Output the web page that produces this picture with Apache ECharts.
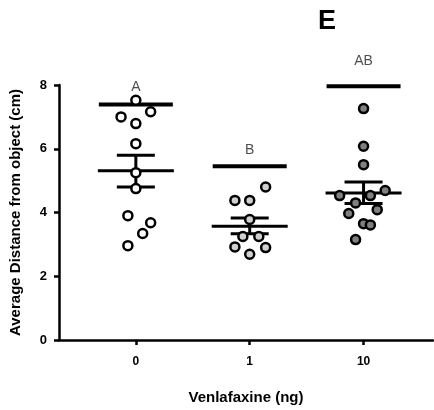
<!DOCTYPE html>
<html>
<head>
<meta charset="utf-8">
<script src="https://cdn.jsdelivr.net/npm/echarts@6/dist/echarts.min.js"></script>
<style>
  html, body { margin: 0; padding: 0; background: #fff; }
  #chart { width: 434px; height: 410px; }
</style>
</head>
<body>
<div id="chart"></div>
<script>
// dose groups (x positions 0,1,2 on the axis)
const doseLabels = ['0', '1', '10'];
const groupFill = ['#ffffff', '#d0d0d0', '#808080'];

// individual animals: x (jittered around group) and y (cm)
const ctrlX = [0, 0.13, -0.13, 0, 0, 0, 0, -0.07, 0.13, 0.06, -0.07];
const ctrlY = [7.52, 7.16, 7.0, 6.79, 6.16, 5.25, 4.75, 3.9, 3.68, 3.34, 2.96];
const lowX = [1.14, 0.87, 1.0, 1.0, 0.94, 1.08, 0.87, 1.0, 1.14];
const lowY = [4.8, 4.38, 4.38, 3.78, 3.25, 3.25, 2.92, 2.69, 2.9];
const highX = [2, 2, 2, 1.79, 2.06, 2.19, 1.93, 2.12, 1.87, 2, 2.06, 1.93];
const highY = [7.26, 6.08, 5.5, 4.53, 4.53, 4.69, 4.3, 4.09, 3.97, 3.65, 3.61, 3.15];

// mean +/- SEM and the upper bar per group
const means = [5.31, 3.57, 4.61];
const semLow = [4.8, 3.33, 4.28];
const semHigh = [5.8, 3.83, 4.96];
const topBar = [7.39, 5.45, 7.96];

// significance letters
const letters = ['A', 'B', 'AB'];
const letterY = [7.93, 5.97, 8.75];

const FONT = "'Liberation Sans', Arial, sans-serif";

const chart = echarts.init(document.getElementById('chart'));

const pts = (xs, ys) => xs.map((x, i) => [x, ys[i]]);
const pointSeries = [pts(ctrlX, ctrlY), pts(lowX, lowY), pts(highX, highY)].map((data, i) => ({
  type: 'scatter',
  data,
  symbol: 'circle',
  symbolSize: 9,
  z: 5,
  itemStyle: { color: groupFill[i], borderColor: '#000', borderWidth: 2.5, opacity: 1 },
  emphasis: { disabled: true },
}));

chart.setOption({
  animation: false,
  textStyle: { fontFamily: FONT },
  title: {
    text: 'E',
    left: 318,
    top: 8,
    padding: 0,
    textStyle: { fontSize: 27, fontWeight: 'bold', color: '#000', fontFamily: FONT },
  },
  grid: { left: 58, right: 1, top: 85, bottom: 69.5 },
  xAxis: {
    type: 'value',
    min: -0.675,
    max: 2.61,
    name: 'Venlafaxine (ng)',
    nameLocation: 'middle',
    nameGap: 50,
    nameTextStyle: { fontSize: 15, fontWeight: 'bold', color: '#000', fontFamily: FONT },
    splitLine: { show: false },
    axisLine: { lineStyle: { color: '#000', width: 2.5 } },
    axisTick: { customValues: [0, 1, 2], length: 5, lineStyle: { color: '#000', width: 2.5 } },
    axisLabel: {
      customValues: [0, 1, 2],
      formatter: v => doseLabels[Math.round(v)],
      margin: 16,
      fontSize: 12,
      fontWeight: 'bold',
      color: '#000',
      fontFamily: FONT,
    },
  },
  yAxis: {
    type: 'value',
    min: 0,
    max: 8,
    interval: 2,
    name: 'Average Distance from object (cm)',
    nameLocation: 'middle',
    nameGap: 36,
    nameTextStyle: { fontSize: 15, fontWeight: 'bold', color: '#000', fontFamily: FONT },
    splitLine: { show: false },
    axisLine: { show: true, onZero: false, lineStyle: { color: '#000', width: 2.5 } },
    axisTick: { show: true, length: 5, lineStyle: { color: '#000', width: 2.5 } },
    axisLabel: { margin: 12, fontSize: 13, fontWeight: 'bold', color: '#000', fontFamily: FONT },
  },
  series: [
    {
      type: 'custom',
      z: 2,
      clip: false,
      data: means.map((m, i) => [i, m, semLow[i], semHigh[i], topBar[i]]),
      renderItem: (params, api) => {
        const x = api.value(0);
        const mean = api.coord([x, api.value(1)]);
        const lo = api.coord([x, api.value(2)]);
        const hi = api.coord([x, api.value(3)]);
        const top = api.coord([x, api.value(4)]);
        const line = (x1, y1, x2, y2, w) => ({
          type: 'line',
          shape: { x1, y1, x2, y2 },
          style: { stroke: '#000', lineWidth: w },
        });
        return {
          type: 'group',
          children: [
            line(top[0] - 37, top[1], top[0] + 37, top[1], 4),
            line(mean[0] - 38, mean[1], mean[0] + 38, mean[1], 3),
            line(hi[0], hi[1], lo[0], lo[1], 3),
            line(hi[0] - 19, hi[1], hi[0] + 19, hi[1], 3),
            line(lo[0] - 19, lo[1], lo[0] + 19, lo[1], 3),
          ],
        };
      },
    },
    ...pointSeries,
    {
      type: 'scatter',
      clip: false,
      symbolSize: 0,
      silent: true,
      z: 6,
      data: letters.map((t, i) => ({ value: [i, letterY[i]], name: t })),
      label: {
        show: true,
        position: 'inside',
        formatter: p => p.name,
        fontSize: 14,
        color: '#222',
        fontFamily: FONT,
      },
    },
  ],
});
</script>
</body>
</html>
